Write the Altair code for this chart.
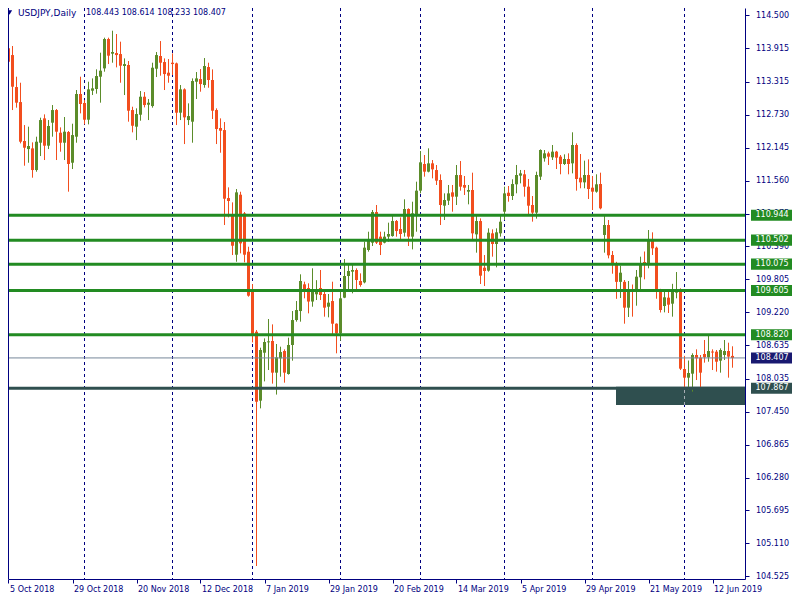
import json
import altair as alt
import pandas as pd

# ---------------- data ----------------
OPEN = [113.913, 113.794, 113.225, 112.958, 112.265, 112.122, 112.134, 111.749, 112.235, 112.668,
        112.182, 112.591, 112.816, 112.413, 112.235, 112.425, 111.879, 112.342, 113.101, 112.941,
        112.644, 113.160, 113.190, 113.409, 113.557, 114.079, 113.818, 113.830, 113.812, 113.599,
        113.617, 112.816, 112.520, 112.733, 113.053, 112.911, 112.887, 113.551, 113.777, 113.670,
        113.480, 113.658, 113.646, 112.769, 113.184, 112.638, 112.609, 113.320, 113.367, 113.261,
        113.581, 113.350, 112.816, 112.496, 112.460, 111.251, 110.960, 110.243, 111.310, 110.978,
        110.296, 109.632, 108.873, 107.647, 108.500, 108.684, 108.708, 108.145, 108.400, 108.530,
        108.121, 108.637, 109.081, 109.241, 109.716, 109.650, 109.410, 109.539, 109.651, 109.544,
        109.318, 109.419, 109.016, 108.844, 109.479, 109.864, 109.941, 109.971, 109.775, 109.751,
        110.327, 110.457, 111.002, 110.564, 110.457, 110.564, 110.575, 110.842, 110.700, 110.635,
        111.056, 110.564, 110.949, 111.382, 111.856, 111.720, 111.868, 111.749, 111.572, 111.115,
        111.204, 111.352, 111.275, 111.660, 111.483, 111.364, 111.394, 110.605, 110.842, 110.012,
        109.959, 110.623, 110.433, 110.623, 111.008, 111.346, 111.287, 111.495, 111.649, 111.673,
        111.453, 111.127, 110.991, 111.631, 111.957, 112.046, 111.975, 112.076, 111.987, 111.856,
        111.945, 111.868, 112.194, 111.613, 111.530, 111.661, 111.435, 111.364, 111.501, 110.594,
        110.771, 110.238, 110.095, 109.760, 109.760, 109.301, 109.610, 109.603, 109.841, 110.113,
        110.060, 110.505, 110.368, 109.620, 109.330, 109.479, 109.372, 109.568, 109.627, 108.210,
        108.056, 108.127, 108.459, 108.412, 108.477, 108.418, 108.518, 108.518, 108.358, 108.459,
        108.530, 108.443]
HIGH = [114.121, 113.955, 113.409, 113.302, 112.549, 112.520, 112.241, 112.342, 112.680, 112.739,
        112.638, 112.905, 112.834, 112.508, 112.692, 112.443, 112.573, 113.172, 113.409, 112.994,
        113.320, 113.379, 113.540, 113.836, 114.103, 114.103, 114.227, 114.168, 114.032, 113.735,
        113.688, 112.875, 112.846, 113.154, 113.136, 113.012, 113.658, 113.848, 114.043, 113.735,
        113.723, 113.824, 113.660, 113.261, 113.202, 112.935, 113.379, 113.492, 113.545, 113.741,
        113.658, 113.539, 112.846, 112.668, 112.603, 111.441, 111.174, 111.411, 111.363, 111.002,
        110.385, 109.721, 108.903, 108.589, 108.755, 109.099, 109.004, 108.655, 108.607, 108.560,
        108.767, 109.241, 109.419, 109.894, 109.763, 109.734, 110.001, 109.790, 109.971, 109.585,
        109.544, 109.763, 109.022, 109.627, 110.166, 110.060, 110.089, 110.000, 109.911, 110.475,
        110.652, 111.038, 111.127, 110.652, 110.652, 110.813, 110.949, 110.860, 110.907, 111.228,
        111.068, 111.186, 111.542, 112.087, 112.016, 112.135, 111.927, 111.838, 111.672, 111.334,
        111.483, 111.483, 111.838, 111.909, 111.643, 111.483, 111.702, 110.949, 110.889, 110.237,
        110.712, 110.694, 110.712, 110.949, 111.453, 111.465, 111.584, 111.839, 111.750, 111.750,
        111.590, 111.287, 111.720, 112.117, 112.105, 112.076, 112.194, 112.090, 112.016, 112.028,
        112.046, 112.420, 112.224, 112.034, 111.916, 111.939, 111.643, 111.673, 111.702, 110.967,
        110.860, 110.309, 110.116, 110.048, 109.793, 109.775, 109.713, 109.971, 110.208, 110.300,
        110.682, 110.641, 110.386, 109.636, 109.612, 109.583, 109.725, 109.935, 109.645, 108.444,
        108.361, 108.489, 108.560, 108.459, 108.726, 108.815, 108.560, 108.548, 108.578, 108.726,
        108.678, 108.614]
LOW = [113.569, 112.816, 112.858, 112.223, 111.826, 111.879, 111.613, 111.719, 111.998, 111.927,
       112.122, 112.342, 111.927, 112.075, 111.927, 111.364, 111.767, 112.235, 112.757, 112.561,
       112.561, 113.083, 113.107, 112.947, 113.498, 113.634, 113.658, 113.575, 113.302, 113.083,
       112.609, 112.419, 112.282, 112.626, 112.863, 112.638, 112.858, 113.403, 113.427, 113.172,
       113.302, 113.439, 112.549, 112.638, 112.211, 112.549, 112.235, 113.012, 113.142, 113.213,
       113.213, 112.656, 112.211, 112.057, 110.771, 110.907, 110.237, 110.118, 110.267, 110.107,
       109.496, 108.683, 104.706, 107.510, 107.990, 108.192, 107.950, 107.755, 108.073, 107.967,
       108.110, 108.358, 109.052, 109.052, 109.467, 109.200, 109.318, 109.437, 109.437, 109.141,
       109.129, 108.815, 108.489, 108.714, 109.470, 109.633, 109.556, 109.615, 109.674, 109.734,
       110.297, 110.398, 110.433, 110.237, 110.445, 110.475, 110.564, 110.564, 110.504, 110.564,
       110.398, 110.338, 110.652, 111.334, 111.631, 111.708, 111.601, 111.483, 110.771, 110.860,
       111.127, 111.008, 111.127, 111.382, 111.305, 111.139, 110.516, 110.279, 109.722, 109.686,
       109.941, 110.208, 110.018, 110.564, 110.860, 111.186, 111.216, 111.335, 111.512, 111.275,
       110.967, 110.831, 110.884, 111.572, 111.898, 111.839, 111.928, 111.767, 111.673, 111.839,
       111.673, 111.690, 111.382, 111.424, 111.424, 111.234, 111.038, 111.346, 111.050, 110.279,
       110.178, 109.905, 109.458, 109.473, 109.016, 109.135, 109.141, 109.336, 109.585, 109.805,
       110.001, 110.238, 109.460, 109.215, 109.218, 109.206, 109.141, 109.467, 108.192, 107.881,
       107.836, 107.807, 108.014, 107.878, 108.323, 108.340, 108.192, 108.163, 108.145, 108.370,
       108.056, 108.233]
CLOSE = [113.676, 113.231, 112.947, 112.253, 112.146, 112.176, 111.749, 112.253, 112.638, 112.182,
         112.532, 112.816, 112.431, 112.235, 112.431, 111.856, 112.371, 113.101, 112.923, 112.644,
         113.184, 113.202, 113.421, 113.516, 114.079, 113.783, 113.848, 113.794, 113.605, 113.634,
         112.804, 112.537, 112.745, 113.053, 112.905, 112.946, 113.569, 113.794, 113.658, 113.456,
         113.427, 113.634, 112.769, 113.184, 112.686, 112.709, 113.332, 113.379, 113.278, 113.599,
         113.350, 112.804, 112.478, 112.448, 111.239, 111.198, 110.403, 111.352, 110.444, 110.243,
         109.514, 108.832, 107.628, 108.548, 108.690, 108.702, 108.145, 108.417, 108.512, 108.145,
         108.637, 109.081, 109.259, 109.775, 109.616, 109.410, 109.600, 109.630, 109.526, 109.301,
         109.390, 109.016, 108.844, 109.467, 109.864, 109.953, 109.971, 109.793, 109.704, 110.368,
         110.504, 111.002, 110.457, 110.415, 110.564, 110.611, 110.842, 110.664, 110.611, 111.056,
         110.564, 110.979, 111.382, 111.886, 111.720, 111.868, 111.761, 111.560, 111.127, 111.216,
         111.334, 111.275, 111.660, 111.453, 111.435, 111.394, 110.623, 110.842, 109.870, 109.953,
         110.635, 110.433, 110.641, 110.830, 111.334, 111.287, 111.500, 111.661, 111.690, 111.453,
         111.115, 110.991, 111.661, 112.105, 112.046, 111.987, 112.076, 111.969, 111.856, 111.945,
         111.856, 112.194, 111.590, 111.530, 111.661, 111.412, 111.364, 111.495, 111.068, 110.771,
         110.232, 110.085, 109.760, 109.923, 109.301, 109.620, 109.592, 109.852, 110.084, 110.060,
         110.505, 110.356, 109.597, 109.259, 109.485, 109.354, 109.609, 109.630, 108.216, 108.056,
         108.139, 108.459, 108.400, 108.145, 108.418, 108.530, 108.506, 108.340, 108.548, 108.530,
         108.430, 108.407]

SEPARATORS = [19, 41, 61, 83, 103, 124, 146, 169]          # first bar of each month
XTICK_POS = [0, 16, 32, 48, 64, 80, 96, 112, 128, 144, 160, 176]
XTICK_LABELS = ["5 Oct 2018", "29 Oct 2018", "20 Nov 2018", "12 Dec 2018", "7 Jan 2019",
                "29 Jan 2019", "20 Feb 2019", "14 Mar 2019", "5 Apr 2019", "29 Apr 2019",
                "21 May 2019", "12 Jun 2019"]
YTICKS = [114.5, 113.915, 113.315, 112.73, 112.145, 111.56, 110.975, 110.39, 109.805,
          109.22, 108.635, 108.035, 107.45, 106.865, 106.28, 105.695, 105.11, 104.525]
GREEN_LEVELS = [110.944, 110.502, 110.075, 109.605, 108.820]
BID_LEVEL = 108.407
SUPPORT_LEVEL = 107.867
ZONE_START = [151.875]
ZONE_LOW = [107.570]
ZONE_HIGH = [107.895]
HEADER_NAME = "USDJPY,Daily"
HEADER_OHLC = "108.443 108.614 108.233 108.407"

# ---------------- styling ----------------
NAVY = "#000080"
BID_BOX = "#191970"
BULL = "#5B8C2A"
BEAR = "#F24E1E"
LEVEL_GREEN = "#228B22"
DARK = "#2F4F4F"
BID_GREY = "#778899"
FONT = "DejaVu Sans"

W, H = 737, 571          # plot area; right margin 47 px keeps the page width at 784
RIGHT = 47
x_scale = alt.Scale(domain=[-0.125, 184.125], nice=False, zero=False, padding=0)
y_scale = alt.Scale(domain=[104.475, 114.631], nice=False, zero=False, padding=0)

n = len(OPEN)
df = pd.DataFrame({"i": list(range(n)), "o": OPEN, "h": HIGH, "l": LOW, "c": CLOSE})
df["dir"] = ["up" if c >= o else "down" for o, c in zip(df.o, df.c)]
mid = (df.o + df.c) / 2
lo = df[["o", "c"]].min(axis=1)
hi = df[["o", "c"]].max(axis=1)
small = (hi - lo) < 0.018
df["bl"] = lo.where(~small, mid - 0.009)
df["bh"] = hi.where(~small, mid + 0.009)

color = alt.Color("dir:N", scale=alt.Scale(domain=["up", "down"], range=[BULL, BEAR]), legend=None)

label_expr = json.dumps(XTICK_LABELS) + "[round(datum.value / 16)]"
x_axis = alt.Axis(values=XTICK_POS, labelExpr=label_expr, labelAlign="left", labelBaseline="top",
                  labelFont=FONT, labelFontSize=8, labelColor=NAVY, tickColor=NAVY, tickSize=4,
                  labelPadding=2, labelOffset=1, domainColor=NAVY, grid=False, title=None,
                  labelOverlap=False, labelFlush=False, labelBound=False)
y_axis = alt.Axis(orient="right", values=YTICKS, format=".3f", labelFont=FONT, labelFontSize=8,
                  labelColor=NAVY, tickColor=NAVY, tickSize=4, labelPadding=6.5, domainColor=NAVY,
                  grid=False, title=None, labelOverlap=False, labelFlush=False, labelBound=False)


def X(field):
    return alt.X(field, scale=x_scale, axis=x_axis)


def Y(field):
    return alt.Y(field, scale=y_scale, axis=y_axis)


sep_df = pd.DataFrame({"i": SEPARATORS})
separators = alt.Chart(sep_df).mark_rule(color=NAVY, strokeWidth=1, strokeDash=[3, 3]).encode(
    x=X("i:Q"))

zone_df = pd.DataFrame({"x1": ZONE_START, "y1": ZONE_LOW, "y2": ZONE_HIGH})
zone = alt.Chart(zone_df).mark_rect(color=DARK, opacity=1).encode(
    x=X("x1:Q"), x2=alt.value(W), y=Y("y1:Q"), y2="y2:Q")

zone_sep_df = pd.DataFrame({"i": [s for s in SEPARATORS if s >= ZONE_START[0]]})
zone_sep_df["y1"] = ZONE_LOW[0]
zone_sep_df["y2"] = ZONE_HIGH[0]
zone_sep = alt.Chart(zone_sep_df).mark_rule(color="#A8AEB4", strokeWidth=1, strokeDash=[3, 3]).encode(
    x=X("i:Q"), y=Y("y1:Q"), y2="y2:Q")

wicks = alt.Chart(df).mark_rule(strokeWidth=1).encode(
    x=X("i:Q"), y=Y("l:Q"), y2="h:Q", color=color)
bodies = alt.Chart(df).mark_bar(size=3).encode(
    x=X("i:Q"), y=Y("bl:Q"), y2="bh:Q", color=color)

green_df = pd.DataFrame({"v": GREEN_LEVELS})
green_lines = alt.Chart(green_df).mark_rule(color=LEVEL_GREEN, strokeWidth=3).encode(y=Y("v:Q"))
support_line = alt.Chart(pd.DataFrame({"v": [SUPPORT_LEVEL]})).mark_rule(
    color=DARK, strokeWidth=3).encode(y=Y("v:Q"))
bid_line = alt.Chart(pd.DataFrame({"v": [BID_LEVEL]})).mark_rule(
    color=BID_GREY, strokeWidth=1).encode(y=Y("v:Q"))

left_border = alt.Chart(pd.DataFrame({"a": [0]})).mark_rule(color=NAVY, strokeWidth=1).encode(
    x=alt.value(0.5))

# price boxes on the right axis
box_shape = "M-1,-0.27L1,-0.27L1,0.27L-1,0.27Z"
BOX_CX = W + 6 + 20.5
TEXT_X = W + 10.5


def price_box(levels, fill):
    d = pd.DataFrame({"v": levels})
    d["lbl"] = [f"{v:.3f}" for v in levels]
    b = alt.Chart(d).mark_point(shape=box_shape, filled=True, opacity=1, size=1681,
                                strokeWidth=0, color=fill).encode(x=alt.value(BOX_CX), y=Y("v:Q"))
    t = alt.Chart(d).mark_text(align="left", baseline="middle", font=FONT, fontSize=8,
                               color="white").encode(x=alt.value(TEXT_X), y=Y("v:Q"), text="lbl:N")
    return [b, t]


boxes = price_box(GREEN_LEVELS, LEVEL_GREEN) + price_box([BID_LEVEL], BID_BOX) + \
    price_box([SUPPORT_LEVEL], DARK)

# header
HEADER_Y = 4.5
hdr = pd.DataFrame({"a": [0]})
tri = alt.Chart(hdr).mark_point(shape="triangle-down", filled=True, color=NAVY, opacity=1,
                                size=28).encode(x=alt.value(1.5), y=alt.value(HEADER_Y))
name_txt = alt.Chart(hdr).mark_text(align="left", baseline="middle", font=FONT, fontSize=9,
                                    color=NAVY, text=HEADER_NAME).encode(
    x=alt.value(10), y=alt.value(HEADER_Y))
ohlc_txt = alt.Chart(hdr).mark_text(align="left", baseline="middle", font=FONT, fontSize=8,
                                    color=NAVY, text=HEADER_OHLC).encode(
    x=alt.value(78), y=alt.value(HEADER_Y))

chart = alt.layer(
    separators, zone, zone_sep, wicks, bodies, green_lines, support_line, bid_line,
    left_border, *boxes, tri, name_txt, ohlc_txt
).properties(
    width=W, height=H,
    padding={"left": 0, "top": 0, "right": RIGHT, "bottom": 21},
    autosize=alt.AutoSizeParams(type="none"),
    background="white",
).configure_view(stroke=None)

chart.save("out.html", embed_options={"renderer": "svg", "actions": False})
